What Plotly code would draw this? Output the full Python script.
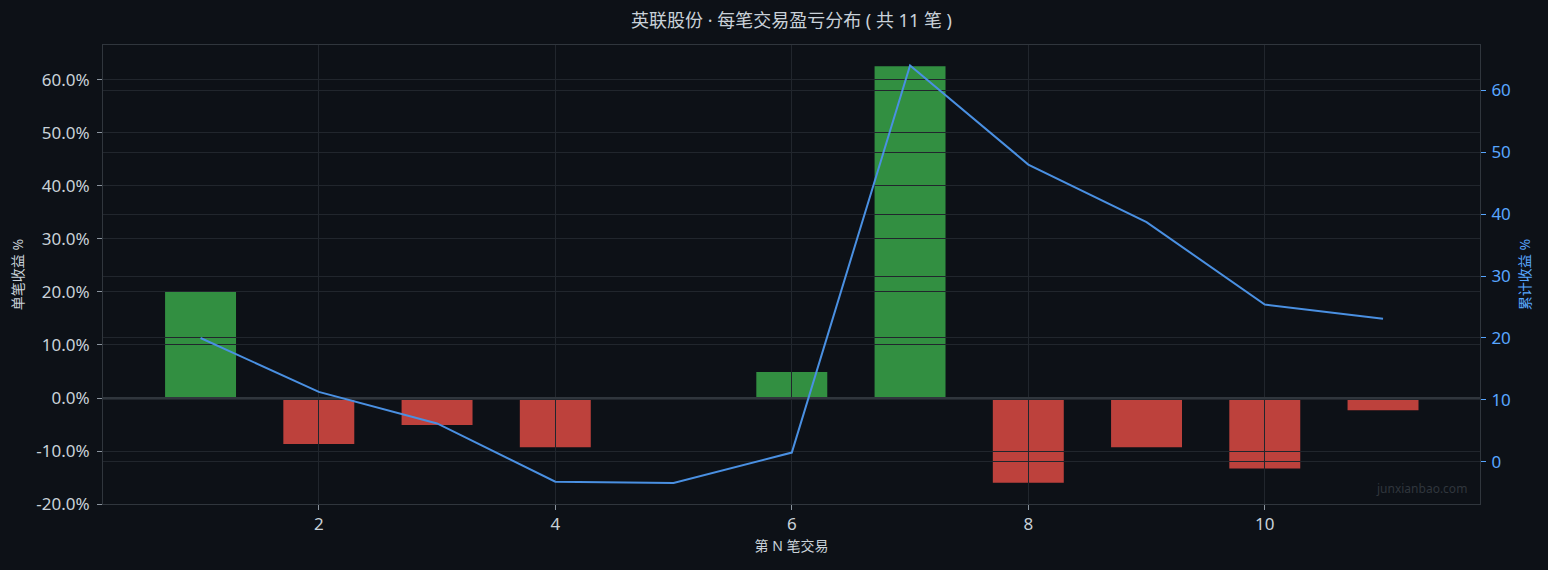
import plotly.graph_objects as go

# ---- data ----
trade_no = [1, 2, 3, 4, 5, 6, 7, 8, 9, 10, 11]
trade_return_pct = [20.0, -8.7, -5.1, -9.3, -0.2, 4.9, 62.6, -16.0, -9.3, -13.3, -2.3]
cumulative_pct = [20.0, 11.3, 6.2, -3.2, -3.4, 1.5, 64.0, 48.0, 38.7, 25.4, 23.1]

left_tick_vals = [-20, -10, 0, 10, 20, 30, 40, 50, 60]
left_tick_text = ["-20.0%", "-10.0%", "0.0%", "10.0%", "20.0%", "30.0%", "40.0%", "50.0%", "60.0%"]

title_text = "英联股份 · 每笔交易盈亏分布 ( 共 11 笔 )"
x_title = "第 N 笔交易"
y_title = "单笔收益 %"
y2_title = "累计收益 %"
watermark = "junxianbao.com"

BG = "#0d1117"
GRID = "#21262d"
AXLINE = "#30363d"
TXT = "#c9d1d9"
BLUE = "#58a6ff"
LINE = "#4a90e2"
UP = "rgba(63,185,80,0.75)"
DOWN = "rgba(248,81,73,0.75)"
FONT = "Noto Sans, Noto Sans CJK SC, sans-serif"

XR = [0.175, 11.82]
YR = [-20, 66.6]
Y3R = [-6.8, 67.3]

bar_colors = [UP if v >= 0 else DOWN for v in trade_return_pct]

fig = go.Figure()
fig.add_trace(go.Bar(
    x=trade_no, y=trade_return_pct, width=0.6,
    marker=dict(color=bar_colors, line=dict(width=0)),
    xaxis="x", yaxis="y", name="单笔收益",
))
# helper trace so the grid subplot exists (invisible)
fig.add_trace(go.Scatter(
    x=trade_no, y=trade_return_pct, mode="markers",
    marker=dict(opacity=0), xaxis="x2", yaxis="y2",
    hoverinfo="skip", showlegend=False,
))
fig.add_trace(go.Scatter(
    x=trade_no, y=cumulative_pct, mode="lines",
    line=dict(color=LINE, width=2),
    xaxis="x2", yaxis="y3", name="累计收益",
))

fig.update_layout(
    width=1548, height=570,
    paper_bgcolor=BG, plot_bgcolor="rgba(0,0,0,0)",
    margin=dict(l=103, r=68, t=45, b=66),
    showlegend=False,
    font=dict(family=FONT, color=TXT, size=14),
    title=dict(text=title_text, x=0.5, xanchor="center", xref="paper",
               y=1 - 21 / 570, yanchor="middle", yref="container",
               font=dict(size=18, color=TXT, family=FONT)),
    xaxis=dict(domain=[0, 1], anchor="y", range=XR, dtick=2, tick0=0,
               showgrid=False, zeroline=False,
               showline=True, mirror=True, linecolor=AXLINE, linewidth=1,
               ticks="outside", ticklen=5, tickcolor="#8b949e",
               tickfont=dict(size=17, color=TXT),
               title=dict(text=x_title, font=dict(size=14, color=TXT), standoff=6)),
    yaxis=dict(domain=[0, 1], anchor="x", range=YR,
               tickmode="array", tickvals=left_tick_vals, ticktext=left_tick_text,
               showgrid=False, zeroline=False,
               showline=True, mirror=True, linecolor=AXLINE, linewidth=1,
               ticks="outside", ticklen=5, tickcolor="#8b949e",
               ticklabelstandoff=4,
               tickfont=dict(size=17, color=TXT),
               title=dict(text=y_title, font=dict(size=14, color=TXT), standoff=9)),
    xaxis2=dict(domain=[0, 1], anchor="y2", range=XR, dtick=2, tick0=0,
                showgrid=True, gridcolor=GRID, gridwidth=1,
                zeroline=False, showticklabels=False, ticks="", showline=False),
    yaxis2=dict(domain=[0, 1], anchor="x2", range=YR,
                tickmode="array", tickvals=left_tick_vals,
                showgrid=True, gridcolor=GRID, gridwidth=1,
                zeroline=True, zerolinecolor=AXLINE, zerolinewidth=2,
                showticklabels=False, ticks="", showline=False, side="left"),
    yaxis3=dict(overlaying="y2", anchor="x2", side="right", range=Y3R,
                dtick=10, tick0=0,
                showgrid=True, gridcolor=GRID, gridwidth=1, zeroline=False,
                showline=False,
                ticks="outside", ticklen=5, tickcolor=BLUE,
                ticklabelstandoff=2,
                tickfont=dict(size=17, color=BLUE),
                title=dict(text=y2_title, font=dict(size=14, color=BLUE), standoff=10)),
    annotations=[dict(text=watermark, xref="paper", yref="paper",
                      x=0.992, y=0.01, xanchor="right", yanchor="bottom",
                      showarrow=False,
                      font=dict(size=12, color="#30363d", family=FONT))],
)

fig.write_html(
    "out.html",
    config={"displayModeBar": False},
    post_script="document.body.style.margin='0';document.body.style.background='#0d1117';",
)
